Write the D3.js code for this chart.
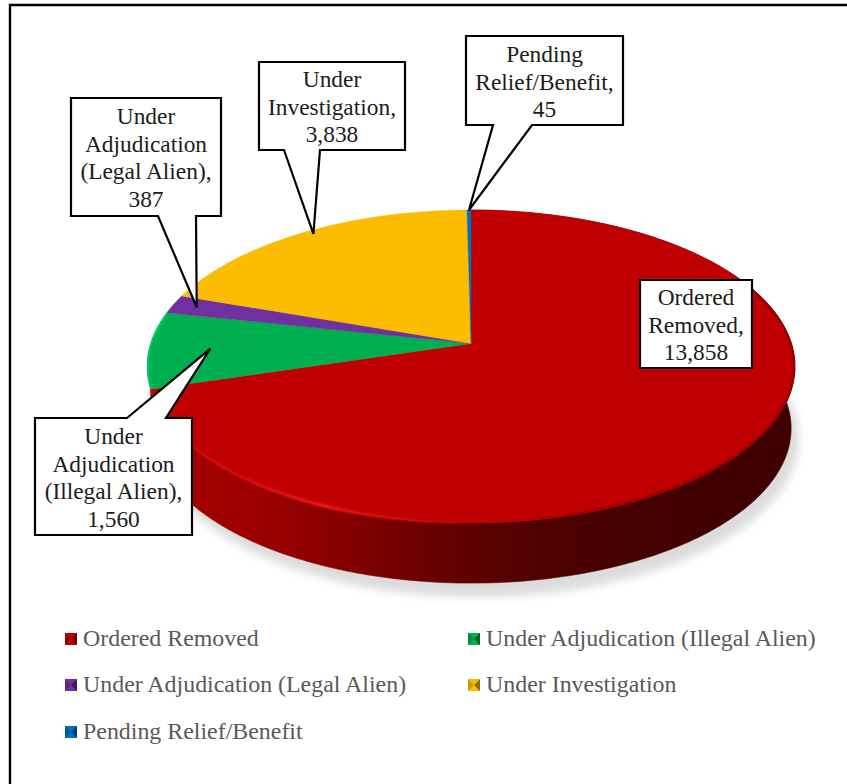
<!DOCTYPE html>
<html><head><meta charset="utf-8">
<script src="https://cdn.jsdelivr.net/npm/d3@7"></script>
<style>html,body{margin:0;padding:0;background:#fff}svg{display:block}text{font-family:"Liberation Serif","Times New Roman",serif}</style>
</head><body><svg id="c" width="847" height="784"></svg>
<script>
const categories = ["Ordered Removed","Under Adjudication (Illegal Alien)","Under Adjudication (Legal Alien)","Under Investigation","Pending Relief/Benefit"];
const values = [13858,1560,387,3838,45];
const colors = ["#C00000","#00AF50","#7030A0","#FCBC00","#0070C0"];
const labelLines = [["Ordered","Removed,"],["Under","Adjudication","(Illegal Alien),"],["Under","Adjudication","(Legal Alien),"],["Under","Investigation,"],["Pending","Relief/Benefit,"]];

const svg = d3.select("#c");
const defs = svg.append("defs");
const W=847,H=784;
svg.append("rect").attr("width",W).attr("height",H).attr("fill","#fff");
svg.append("path").attr("d",`M10,${H}V5H${W}`).attr("fill","none").attr("stroke","#000").attr("stroke-width",2.4);

// perspective disc: unit circle -> ellipse, with the disc centre lying above the ellipse centre
const cx=471, cy=366.5, rx=324, ry=156.5, apexShift=-23;
const c=apexShift/ry, d=rx*Math.sqrt(1-c*c);
function project(theta,r=1){
  const u=r*Math.sin(theta), v=-r*Math.cos(theta), w=1+c*v;
  return [cx+d*u/w, cy+(ry*v+apexShift)/w];
}
function lower(p){ const k=0.988; return [cx+(p[0]-cx)*k, cy+(p[1]-cy)*k+62]; }
function rim(a0,a1){ const n=Math.max(2,Math.ceil((a1-a0)/0.01)); return d3.range(n+1).map(i=>project(a0+(a1-a0)*i/n)); }
const line=d3.line();
const arcs=d3.pie().sort(null).startAngle(0).endAngle(2*Math.PI)(values);

// filters, gradients
const f=(id,s)=>defs.append("filter").attr("id",id).attr("x","-20%").attr("y","-20%").attr("width","140%").attr("height","140%").append("feGaussianBlur").attr("stdDeviation",s);
f("b5",4); f("b1",1.1); f("b05",0.8);
function lg(id,stops){
  const g=defs.append("linearGradient").attr("id",id).attr("gradientUnits","userSpaceOnUse").attr("x1",0).attr("x2",W).attr("y1",0).attr("y2",0);
  stops.forEach(s=>g.append("stop").attr("offset",s[0]/W).attr("stop-color",s[1]).attr("stop-opacity",s[2]===undefined?1:s[2]));
}
lg("sideRed",[[150,"#a80000"],[260,"#9c0000"],[340,"#870000"],[420,"#6c0000"],[500,"#570000"],[600,"#480000"],[795,"#3e0000"]]);
lg("hiRed",[[170,"#f01818",0.2],[230,"#f01818",0.5],[320,"#f52020",0.95],[400,"#ee1515",0.5],[480,"#e01010",0]]);
lg("loRed",[[470,"#400000",0],[600,"#400000",0.5],[795,"#400000",0.6]]);

// drop shadow
svg.append("ellipse").attr("cx",cx+6).attr("cy",cy+72).attr("rx",rx-2).attr("ry",ry+2).attr("fill","#dcdcdc").attr("filter","url(#b5)");

// side wall: only the large front slice shows a wall
{
  const a=arcs[0], top=rim(a.startAngle,a.endAngle), bot=top.map(lower).reverse();
  svg.append("path").attr("d",line(top.concat(bot))+"Z").attr("fill","url(#sideRed)").attr("stroke","url(#sideRed)").attr("stroke-width",0.6);
}

// top face
arcs.forEach((a,i)=>{
  svg.append("path").attr("d",line([project(0,0)].concat(rim(a.startAngle,a.endAngle)))+"Z").attr("fill",colors[i]).attr("stroke",colors[i]).attr("stroke-width",0.4);
});

// rim bevels on the red and green slices
const pieClip=defs.append("clipPath").attr("id","top");
pieClip.append("path").attr("d",line(rim(0,2*Math.PI))+"Z");
svg.append("path").attr("d",line(rim(arcs[0].startAngle+1.2,arcs[0].endAngle))).attr("fill","none").attr("stroke","url(#loRed)").attr("stroke-width",2.6).attr("filter","url(#b1)").attr("clip-path","url(#top)");
svg.append("path").attr("d",line(rim(arcs[0].startAngle+2.4,arcs[0].endAngle))).attr("fill","none").attr("stroke","url(#hiRed)").attr("stroke-width",3).attr("filter","url(#b05)");
svg.append("path").attr("d",line(rim(arcs[1].startAngle,arcs[1].endAngle))).attr("fill","none").attr("stroke","#00d368").attr("stroke-width",3).attr("filter","url(#b05)").attr("clip-path","url(#top)");

// callouts: box [x0,y0,x1,y1], pointer base [xa,xb], side of the box, pointer tip [fraction across slice, radius]
const boxes=[[640,280,752,368],[35,418,192,535],[71,98,221,216],[259,62,405,150],[466,36,623,125]];
const bases=[null,[127,166],[158,196],[284,320],[493,532]];
const baseOnTop=[false,true,false,false,false];
const tips=[null,[0.5,0.81],[0.5,0.92],[0.52,0.97],[0.5,1]];
const textTop=[298,437,117,80,55];
const fmt=d3.format(",");
arcs.forEach((a,i)=>{
  const [x0,y0,x1,y1]=boxes[i];
  let ptr=[];
  if(bases[i]){
    const th=a.startAngle+(a.endAngle-a.startAngle)*tips[i][0];
    const tip=project(th,tips[i][1]);
    ptr=baseOnTop[i]?[[bases[i][0],y0],tip,[bases[i][1],y0]]:[[bases[i][1],y1],tip,[bases[i][0],y1]];
  }
  const pts=baseOnTop[i]?[[x0,y0],...ptr,[x1,y0],[x1,y1],[x0,y1]]:[[x0,y0],[x1,y0],[x1,y1],...ptr,[x0,y1]];
  svg.append("path").attr("d",line(pts)+"Z").attr("fill","#fff").attr("stroke","#000").attr("stroke-width",2.2).attr("stroke-linejoin","miter");
  const ls=labelLines[i].concat([fmt(values[i])]);
  const g=svg.append("text").attr("text-anchor","middle").attr("fill","#1c1c1c").attr("font-size",23.4);
  ls.forEach((t,j)=>g.append("tspan").attr("x",(x0+x1)/2).attr("y",textTop[i]+7+j*27.5).text(t));
});

// legend
const legendX=[65,468], legendY=[639,685,732];
const shade=(col,k)=>d3.color(col).darker(k).formatHex();
categories.forEach((t,i)=>{
  const x=legendX[i%2], y=legendY[Math.floor(i/2)], s=6;
  const g=svg.append("g").attr("transform",`translate(${x+s},${y})`);
  g.append("rect").attr("x",-s).attr("y",-s).attr("width",2*s).attr("height",2*s).attr("fill",colors[i]);
  g.append("path").attr("d",`M${-s},${-s}L0,0L${-s},${s}Z`).attr("fill",shade(colors[i],0.6));
  g.append("path").attr("d",`M${s},${-s}L0,0L${s},${s}Z`).attr("fill",shade(colors[i],1.6));
  svg.append("text").attr("x",x+18).attr("y",y+6.5).attr("fill","#595959").attr("font-size",23.9).text(t);
});
</script></body></html>
